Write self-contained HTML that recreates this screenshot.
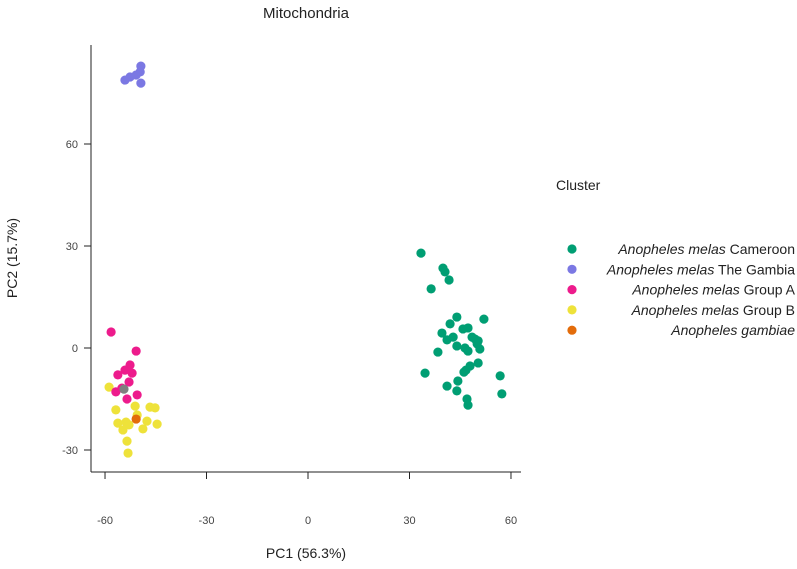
<!DOCTYPE html>
<html><head><meta charset="utf-8"><style>
body{margin:0;background:#fff;font-family:"Liberation Sans",sans-serif;}
svg text{font-family:"Liberation Sans",sans-serif;}
</style></head><body>
<svg id="chart" width="797" height="564" viewBox="0 0 797 564" xmlns="http://www.w3.org/2000/svg">
<text x="306" y="18" font-size="15" text-anchor="middle" fill="#222">Mitochondria</text>
<g id="axes"></g>
<g id="points"></g>
<text x="306" y="558" font-size="14" text-anchor="middle" fill="#222">PC1 (56.3%)</text>
<text transform="translate(17,258) rotate(-90)" font-size="14" text-anchor="middle" fill="#222">PC2 (15.7%)</text>
<g>
<text x="556" y="190" font-size="14" fill="#222">Cluster</text>
<g id="legend-items"></g>
</g>
</svg>
<script>
const xTicks=[-60,-30,0,30,60];
const yTicks=[-30,0,30,60];
const camX=[33.4,39.9,40.5,41.7,36.4,44.0,52.0,42.0,45.8,47.3,39.6,42.9,41.1,48.5,49.4,50.3,50.0,44.0,46.4,47.3,50.8,38.4,50.3,47.9,46.7,46.1,34.6,56.8,44.3,41.1,44.0,57.3,47.0,47.3];
const camY=[27.9,23.5,22.4,20,17.4,9.1,8.5,7.1,5.6,5.9,4.4,3.2,2.4,3.2,2.6,2.1,1.2,0.6,0,-0.9,-0.3,-1.2,-4.4,-5.3,-6.5,-7.1,-7.4,-8.2,-9.7,-11.2,-12.6,-13.5,-15.0,-16.8];
const gamX=[-54.1,-52.6,-50.8,-49.6,-49.4,-49.4];
const gamY=[78.8,79.7,80.3,81.2,82.9,77.9];
const grpAX=[-58.2,-50.8,-52.6,-54.1,-52.0,-56.2,-52.9,-56.8,-53.5,-50.5,-55.0];
const grpAY=[4.7,-0.9,-5.0,-6.5,-7.4,-7.9,-10,-12.9,-15,-13.8,-11.8];
const grpBX=[-58.8,-56.8,-51.1,-46.7,-45.2,-56.2,-53.8,-52.9,-50.5,-47.6,-44.6,-54.7,-48.8,-53.5,-53.2];
const grpBY=[-11.5,-18.2,-17.1,-17.4,-17.6,-22.1,-21.8,-22.6,-19.7,-21.5,-22.4,-24.1,-23.8,-27.4,-30.9];
const gambX=[-50.8];
const gambY=[-20.9];
const naX=[-54.4];
const naY=[-12.1];
const legendLabels=[["Anopheles melas"," Cameroon"],["Anopheles melas"," The Gambia"],["Anopheles melas"," Group A"],["Anopheles melas"," Group B"],["Anopheles gambiae",""]];
const colors=["#009E73","#7B78E3","#ED1B8C","#EEE23A","#E36C0A"];

const NS="http://www.w3.org/2000/svg";
const X=v=>308+v*3.383;
const Y=v=>348-v*3.4;
function mk(t,a,p){const e=document.createElementNS(NS,t);for(const k in a)e.setAttribute(k,a[k]);p.appendChild(e);return e;}
const ax=document.getElementById('axes');
let l=mk('line',{x1:91,y1:45,x2:91,y2:472,stroke:'#222','stroke-width':1},ax);


l=mk('line',{x1:91,y1:472,x2:521,y2:472,stroke:'#222','stroke-width':1},ax);


xTicks.forEach(v=>{
 const t=mk('line',{x1:X(v),y1:472,x2:X(v),y2:479,stroke:'#222'},ax);
 
 
 const tx=mk('text',{x:X(v),y:524,'font-size':11,'text-anchor':'middle',fill:'#444'},ax);
 tx.textContent=v;
 
 
});
yTicks.forEach(v=>{
 const t=mk('line',{x1:84,y1:Y(v),x2:91,y2:Y(v),stroke:'#222'},ax);
 
 
 const tx=mk('text',{x:78,y:Y(v)+4,'font-size':11,'text-anchor':'end',fill:'#444'},ax);
 tx.textContent=v;
 
 
});
const pg=document.getElementById('points');
function series(xs,ys,c,name){xs.forEach((x,i)=>{
 const p=mk('circle',{cx:X(x),cy:Y(ys[i]),r:4.6,fill:c},pg);
 
 
});}
series(camX,camY,colors[0],'point-cameroon');
series(gamX,gamY,colors[1],'point-gambia');
series(grpBX,grpBY,colors[3],'point-group-b');
series(grpAX,grpAY,colors[2],'point-group-a');
series(naX,naY,'#7f7f7f','point-other');
series(gambX,gambY,colors[4],'point-gambiae');
const lg=document.getElementById('legend-items');
legendLabels.forEach((lab,i)=>{
 const y=249+i*20.3;
 const c=mk('circle',{cx:572,cy:y,r:4.6,fill:colors[i]},lg);
 
 
 const t=mk('text',{x:795,y:y+5,'font-size':14,'text-anchor':'end',fill:'#222'},lg);
 
 
 const s=mk('tspan',{'font-style':'italic'},t);s.textContent=lab[0];
 if(lab[1]){const s2=mk('tspan',{},t);s2.textContent=lab[1];}
});
</script>
</body></html>
